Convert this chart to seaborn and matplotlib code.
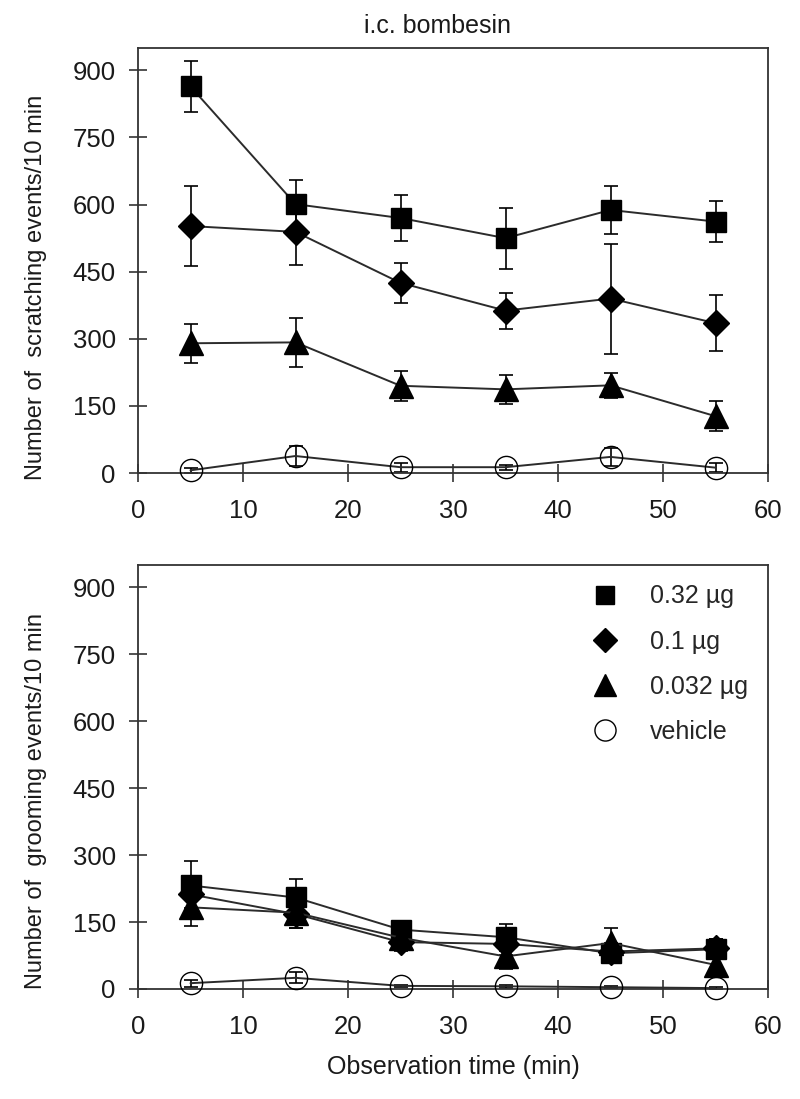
import matplotlib
matplotlib.use("Agg")
import matplotlib.pyplot as plt
import seaborn as sns
import pandas as pd
from matplotlib.lines import Line2D

# ---------------- data ----------------
times = [5, 15, 25, 35, 45, 55]
dose_labels = ["0.32 µg", "0.1 µg", "0.032 µg", "vehicle"]

# scratching events / 10 min (mean, SEM)
scratch_032 = [864, 601, 570, 525, 588, 562]
scratch_032_sem = [57, 54, 51, 68, 54, 46]
scratch_01 = [552, 539, 425, 363, 390, 335]
scratch_01_sem = [90, 73, 44, 40, 123, 63]
scratch_0032 = [290, 292, 195, 187, 196, 127]
scratch_0032_sem = [44, 54, 33, 32, 28, 34]
scratch_veh = [6, 38, 13, 13, 36, 12]
scratch_veh_sem = [5, 22, 10, 6, 20, 10]

# grooming events / 10 min (mean, SEM)
groom_032 = [232, 205, 133, 116, 80, 89]
groom_032_sem = [55, 42, 20, 30, 15, 22]
groom_01 = [212, 168, 105, 101, 84, 91]
groom_01_sem = [30, 32, 20, 25, 20, 22]
groom_0032 = [183, 171, 115, 73, 103, 54]
groom_0032_sem = [42, 35, 20, 28, 33, 15]
groom_veh = [13, 25, 7, 6, 4, 2]
groom_veh_sem = [8, 12, 3, 3, 2, 2]

y_ticks = [0, 150, 300, 450, 600, 750, 900]
x_ticks = [0, 10, 20, 30, 40, 50, 60]


def long_table(series, sems):
    rows = []
    for lab, vals, errs in zip(dose_labels, series, sems):
        for t, v, e in zip(times, vals, errs):
            rows.append({"time": t, "count": v, "sem": e, "dose": lab})
    return pd.DataFrame(rows)


scratch_df = long_table([scratch_032, scratch_01, scratch_0032, scratch_veh],
                        [scratch_032_sem, scratch_01_sem, scratch_0032_sem, scratch_veh_sem])
groom_df = long_table([groom_032, groom_01, groom_0032, groom_veh],
                      [groom_032_sem, groom_01_sem, groom_0032_sem, groom_veh_sem])

# ---------------- style ----------------
sns.set_theme(style="ticks")
plt.rcParams["font.family"] = ["Liberation Sans", "DejaVu Sans"]

marker_style = {
    "0.32 µg": dict(marker="s", markersize=14, markerfacecolor="black"),
    "0.1 µg": dict(marker="D", markersize=13, markerfacecolor="black"),
    "0.032 µg": dict(marker="^", markersize=17, markerfacecolor="black"),
    "vehicle": dict(marker="o", markersize=16, markerfacecolor="none"),
}

fig = plt.figure(figsize=(8, 10.99), dpi=100)
ax1 = fig.add_axes([0.1725, 0.5696, 0.7875, 0.3867])
ax2 = fig.add_axes([0.1725, 0.1001, 0.7875, 0.3858])


def draw_panel(ax, df, ylabel, label_y):
    for lab in dose_labels:
        sub = df[df["dose"] == lab]
        ax.errorbar(sub["time"], sub["count"], yerr=sub["sem"], fmt="none",
                    ecolor="black", elinewidth=1.2, capsize=5, capthick=1.2,
                    zorder=2, clip_on=False)
        sns.lineplot(data=sub, x="time", y="count", ax=ax, color="#2b2b2b",
                     linewidth=1.4, errorbar=None, legend=False,
                     markeredgecolor="black", markeredgewidth=1.0,
                     zorder=3, clip_on=False, **marker_style[lab])
    ax.set_xlim(0, 60)
    ax.set_ylim(0, 950)
    ax.set_xticks(x_ticks)
    ax.set_yticks(y_ticks)
    ax.set_xlabel("")
    ax.set_ylabel(ylabel, fontsize=17, color="#1a1a1a")
    ax.yaxis.set_label_coords(-0.1444, label_y)
    for sp in ax.spines.values():
        sp.set_visible(True)
        sp.set_linewidth(1.3)
        sp.set_color("#333333")
    ax.tick_params(axis="both", direction="inout", length=13, width=1.2,
                   color="#333333", labelsize=18.5, labelcolor="#1a1a1a",
                   top=False, right=False)
    ax.tick_params(axis="y", pad=9.5)
    ax.tick_params(axis="x", pad=12)


draw_panel(ax1, scratch_df, "Number of  scratching events/10 min", 0.4376)
draw_panel(ax2, groom_df, "Number of  grooming events/10 min", 0.443)

ax2.set_xlabel("Observation time (min)", fontsize=18, color="#1a1a1a", labelpad=12)

fig.text(437 / 800, 1 - 33 / 1099, "i.c. bombesin", ha="center", va="baseline",
         fontsize=18, color="#1a1a1a")

handles = []
for lab in dose_labels:
    st = marker_style[lab]
    handles.append(Line2D([], [], linestyle="none", marker=st["marker"],
                          markersize=st["markersize"] * 0.95,
                          markerfacecolor=st["markerfacecolor"],
                          markeredgecolor="black", markeredgewidth=1.0))
ax2.legend(handles, dose_labels, loc="upper left", bbox_to_anchor=(0.7214, 0.954),
           frameon=False, fontsize=18, handlelength=1.0, handletextpad=1.3,
           labelspacing=0.85, borderpad=0, borderaxespad=0)

fig.savefig("out.png", dpi=100)
